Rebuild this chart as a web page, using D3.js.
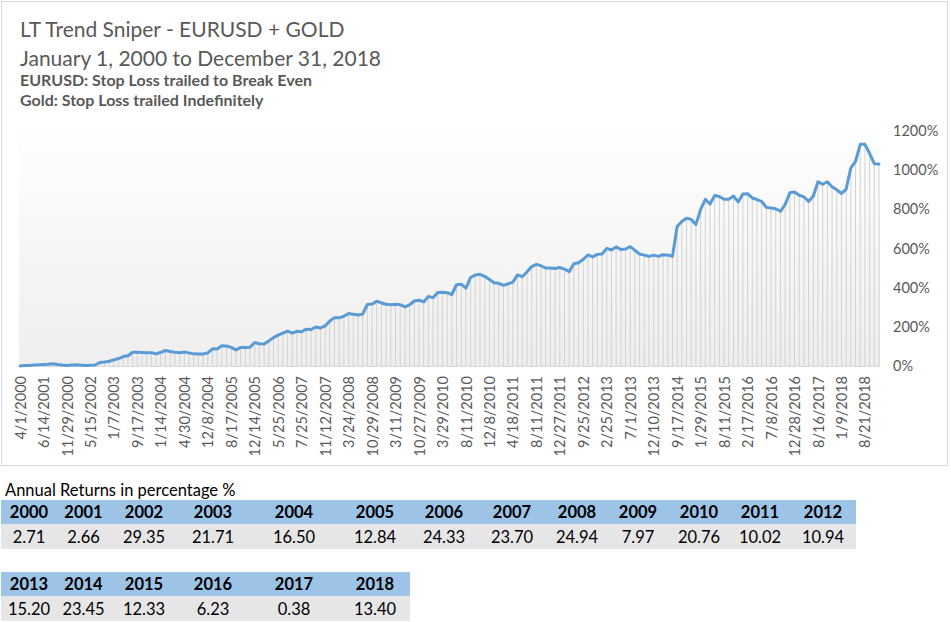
<!DOCTYPE html>
<html lang="en">
<head>
<meta charset="UTF-8">
<title>LT Trend Sniper</title>
<script src="https://d3js.org/d3.v7.min.js"></script>
<style>
  body { margin: 0; background: #fff; }
  svg text { font-family: Lato, "Open Sans", sans-serif; }
</style>
</head>
<body>
<svg id="chart" width="951" height="622"></svg>
<script>
// cumulative return, % (one point per trade close)
const equity = [
  0, 2, 3, 5, 6, 8, 9, 12, 8, 5, 3, 5, 6, 4, 2, 4, 5, 18, 20, 24,
  31, 38, 48, 52, 70, 70, 69, 68, 68, 62, 70, 79, 74, 70, 68, 71, 67, 62, 61, 61,
  67, 88, 87, 104, 102, 95, 82, 94, 95, 96, 120, 114, 112, 128, 145, 158, 168, 178, 168, 177,
  175, 188, 186, 199, 194, 205, 230, 247, 246, 254, 268, 264, 260, 265, 314, 316, 331, 322, 315, 313,
  315, 313, 302, 312, 332, 336, 327, 355, 349, 375, 376, 374, 365, 415, 418, 398, 452, 465, 468, 458,
  442, 425, 422, 412, 420, 428, 465, 456, 480, 508, 519, 512, 500, 500, 498, 503, 495, 482, 522, 527,
  545, 567, 557, 570, 572, 600, 593, 608, 595, 597, 610, 590, 572, 566, 560, 566, 560, 568, 567, 560,
  712, 738, 755, 748, 722, 800, 851, 827, 871, 866, 851, 851, 868, 838, 878, 880, 858, 850, 841, 810,
  807, 803, 790, 824, 885, 888, 872, 864, 840, 868, 941, 928, 941, 915, 900, 880, 903, 1012, 1045, 1132,
  1132, 1085, 1033, 1031
];

// date shown under every 5th point
const tickLabels = [
  "4/1/2000", "6/14/2001", "11/29/2000", "5/15/2002", "1/7/2003", "9/17/2003", "1/14/2004",
  "4/30/2004", "12/8/2004", "8/17/2005", "12/14/2005", "5/25/2006", "7/25/2007", "11/12/2007",
  "3/24/2008", "10/29/2008", "3/11/2009", "10/27/2009", "3/29/2010", "8/11/2010", "12/8/2010",
  "4/18/2011", "8/11/2011", "12/27/2011", "9/25/2012", "2/25/2013", "7/1/2013", "12/10/2013",
  "9/17/2014", "1/29/2015", "8/11/2015", "2/17/2016", "7/8/2016", "12/28/2016", "8/16/2017",
  "1/9/2018", "8/21/2018"
];
const yTicks = [0, 200, 400, 600, 800, 1000, 1200];

const years1 = ["2000", "2001", "2002", "2003", "2004", "2005", "2006", "2007", "2008", "2009", "2010", "2011", "2012"];
const returns1 = ["2.71", "2.66", "29.35", "21.71", "16.50", "12.84", "24.33", "23.70", "24.94", "7.97", "20.76", "10.02", "10.94"];
const years2 = ["2013", "2014", "2015", "2016", "2017", "2018"];
const returns2 = ["15.20", "23.45", "12.33", "6.23", "0.38", "13.40"];

const svg = d3.select("#chart");
const grey = "#595959";

// chart frame
svg.append("rect")
  .attr("x", 1.5).attr("y", 1.5).attr("width", 946).attr("height", 464)
  .attr("fill", "#fff").attr("stroke", "#d9d9d9");

// titles
const titles = svg.append("g").attr("fill", grey);
titles.append("text").attr("x", 20).attr("y", 37)
  .style("font-size", "21px")
  .text("LT Trend Sniper - EURUSD + GOLD");
titles.append("text").attr("x", 20).attr("y", 66)
  .style("font-size", "21px")
  .text("January 1, 2000 to December 31, 2018");
titles.append("text").attr("x", 20).attr("y", 86)
  .style("font-size", "16px").style("font-weight", 700)
  .text("EURUSD: Stop Loss trailed to Break Even");
titles.append("text").attr("x", 20).attr("y", 106)
  .style("font-size", "16px").style("font-weight", 700)
  .text("Gold: Stop Loss trailed Indefinitely");

// plot area
const plotL = 20, plotR = 879, plotT = 131, plotB = 366;
const x = d3.scalePoint().domain(d3.range(equity.length)).range([plotL, plotR]);
const y = d3.scaleLinear().domain([0, 1200]).range([plotB, plotT]);

const grad = svg.append("defs").append("linearGradient")
  .attr("id", "bg").attr("x1", 0).attr("y1", 0).attr("x2", 0).attr("y2", 1);
grad.append("stop").attr("offset", "0%").attr("stop-color", "#ffffff");
grad.append("stop").attr("offset", "100%").attr("stop-color", "#eeeeee");

svg.append("rect")
  .attr("x", plotL - 1).attr("y", plotT - 10)
  .attr("width", plotR - plotL + 2).attr("height", plotB - plotT + 10)
  .attr("fill", "url(#bg)");

// drop lines
svg.append("g")
  .selectAll("line")
  .data(equity)
  .join("line")
    .attr("x1", (d, i) => x(i)).attr("x2", (d, i) => x(i))
    .attr("y1", d => y(d)).attr("y2", plotB)
    .attr("stroke", "#d2d2d2").attr("stroke-width", 1);

// x axis
const xAxis = svg.append("g")
  .attr("transform", `translate(0,${plotB})`)
  .call(d3.axisBottom(x)
    .tickValues(d3.range(0, equity.length, 5))
    .tickFormat(i => tickLabels[i / 5])
    .tickSize(0));
xAxis.select(".domain").attr("stroke", "#d9d9d9");
xAxis.selectAll("text")
  .attr("fill", grey)
  .style("font-size", "14.5px")
  .attr("text-anchor", "end")
  .attr("transform", "rotate(-90)")
  .attr("x", -10).attr("y", 0).attr("dy", "0.35em");

// y axis
const yAxis = svg.append("g")
  .attr("transform", `translate(${plotR},0)`)
  .call(d3.axisRight(y).tickValues(yTicks).tickFormat(d => d + "%").tickSize(0).tickPadding(14));
yAxis.select(".domain").remove();
yAxis.selectAll("text").attr("fill", grey).style("font-size", "14.5px");

// equity line
svg.append("path")
  .datum(equity)
  .attr("fill", "none")
  .attr("stroke", "#5b9bd5")
  .attr("stroke-width", 3)
  .attr("stroke-linejoin", "round")
  .attr("stroke-linecap", "round")
  .attr("d", d3.line().x((d, i) => x(i)).y(d => y(d)));

// annual returns tables
const colEdges = [1, 57, 110, 178, 248, 340, 410, 478, 546, 608, 668, 730, 790, 856];

svg.append("text").attr("x", 5).attr("y", 496)
  .attr("fill", "#000").style("font-size", "16.5px")
  .text("Annual Returns in percentage %");

function table(years, vals, y0) {
  const g = svg.append("g");
  const n = years.length;
  g.append("rect").attr("x", colEdges[0]).attr("y", y0)
    .attr("width", colEdges[n] - colEdges[0]).attr("height", 24).attr("fill", "#9dc3e6");
  g.append("rect").attr("x", colEdges[0]).attr("y", y0 + 24)
    .attr("width", colEdges[n] - colEdges[0]).attr("height", 25).attr("fill", "#e7e6e6");
  g.selectAll("text.yr").data(years).join("text")
    .attr("class", "yr")
    .attr("x", (d, i) => (colEdges[i] + colEdges[i + 1]) / 2).attr("y", y0 + 18)
    .attr("text-anchor", "middle").attr("fill", "#000")
    .style("font-size", "16.5px").style("font-weight", 700)
    .text(d => d);
  g.selectAll("text.val").data(vals).join("text")
    .attr("class", "val")
    .attr("x", (d, i) => (colEdges[i] + colEdges[i + 1]) / 2).attr("y", y0 + 43)
    .attr("text-anchor", "middle").attr("fill", "#000")
    .style("font-size", "16.5px")
    .text(d => d);
}
table(years1, returns1, 500);
table(years2, returns2, 572);
</script>
</body>
</html>
